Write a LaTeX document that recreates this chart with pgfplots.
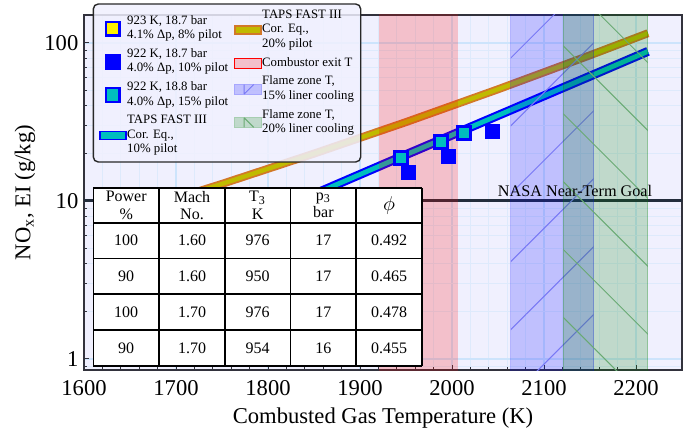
\documentclass[border=0pt]{standalone}
\usepackage{fontspec}
\setmainfont{Liberation Serif}
\usepackage{pgfplots}
\usepackage{pgfplotstable}
\pgfplotsset{compat=1.18}
\usetikzlibrary{patterns.meta}

\definecolor{axbg}{RGB}{240,240,254}
\definecolor{gridmaj}{RGB}{205,228,252}
\definecolor{gridmin}{RGB}{222,234,252}
\definecolor{tapsolive}{RGB}{192,186,0}
\definecolor{tapsorange}{RGB}{210,120,40}
\definecolor{tealc}{RGB}{0,190,190}
\definecolor{nasa}{RGB}{35,45,60}
\definecolor{frame}{RGB}{50,50,60}
\definecolor{legframe}{RGB}{40,40,40}
\definecolor{hatchblue}{RGB}{120,120,245}
\definecolor{hatchgreen}{RGB}{105,170,115}
\definecolor{bandgreen}{RGB}{0,128,0}

\newcommand{\legtext}[1]{\begin{tabular}{@{}l@{}}#1\end{tabular}}

% TAPS FAST III correlation curves
\pgfplotstableread{
T EI
1680 9.53
1750 12.8
1850 19.9
1950 31.5
2050 50.8
2150 83.4
2213 115
}\tapstwenty
\pgfplotstableread{
T EI
1750 6.2
1850 11.0
1950 19.6
2050 34.7
2150 61.5
2213 88.3
}\tapsten

\begin{document}
\begin{tikzpicture}
\begin{axis}[
  name=main,
  scale only axis, width=299pt, height=177.5pt,
  xmin=1600, xmax=2250, ymode=log, ymin=0.85, ymax=150,
  xtick={1600,1700,...,2200}, minor x tick num=4,
  ytick={1,10,100}, yticklabels={1,10,100},
  minor ytick={0.9,2,3,4,5,6,7,8,9,20,30,40,50,60,70,80,90},
  tick pos=left, tick align=inside,
  major tick length=2.5pt, minor tick length=1.5pt,
  tick style={draw=frame, line width=0.5pt},
  axis line style={draw=frame, line width=0.6pt},
  axis background/.style={fill=axbg},
  grid=both,
  major grid style={draw=gridmaj, line width=0.8pt},
  minor grid style={draw=gridmin, line width=0.4pt},
  /pgf/number format/assume math mode=true,
  tick label style={font=\fontsize{11.3}{13}\selectfont},
  x tick label style={/pgf/number format/1000 sep={}, yshift=-1.5pt},
  y tick label style={xshift=0.7pt},
  label style={font=\fontsize{11.3}{13}\selectfont},
  xlabel={Combusted Gas Temperature (K)},
  ylabel={NO\textsubscript{x}, EI (g/kg)},
  xlabel style={at={(axis description cs:0.5,-0.1352)}, anchor=center},
  ylabel style={at={(axis description cs:-0.0987,0.5)}, anchor=center},
]
% NASA goal
\addplot[no marks, draw=nasa, line width=1.5pt] coordinates {(1600,10) (2250,10)};
% correlation lines
\addplot[no marks, draw=tapsorange, line width=4pt] table[x=T,y=EI] {\tapstwenty};
\addplot[no marks, draw=tapsolive, line width=2.2pt] table[x=T,y=EI] {\tapstwenty};
\addplot[no marks, draw=blue, line width=4.5pt] table[x=T,y=EI] {\tapsten};
\addplot[no marks, draw=tealc, line width=2.4pt] table[x=T,y=EI] {\tapsten};
% temperature bands
\addplot[draw=none, fill=red, fill opacity=0.2] coordinates {(1921,0.5) (1921,300) (2006,300) (2006,0.5)};
\addplot[draw=blue, draw opacity=0.25, line width=0.5pt, fill=blue, fill opacity=0.2] coordinates {(2064,0.5) (2064,300) (2154,300) (2154,0.5)};
\addplot[draw=none, pattern={Lines[angle=45,distance=24pt,line width=0.5pt]}, pattern color=hatchblue] coordinates {(2064,0.5) (2064,300) (2154,300) (2154,0.5)};
\addplot[draw=bandgreen, draw opacity=0.25, line width=0.5pt, fill=bandgreen, fill opacity=0.2] coordinates {(2121,0.5) (2121,300) (2213,300) (2213,0.5)};
\addplot[draw=none, pattern={Lines[angle=-45,distance=24pt,line width=0.5pt]}, pattern color=hatchgreen] coordinates {(2121,0.5) (2121,300) (2213,300) (2213,0.5)};
% measurements
\addplot[only marks, mark=square*, mark size=3.5pt, mark options={fill=blue, draw=blue, line width=0.5pt}]
  coordinates {(1952.5,15.1) (1996,19.0) (2044,27.4)};
\addplot[only marks, mark=square*, mark size=3.25pt, mark options={fill=tealc, draw=blue, line width=1.5pt}]
  coordinates {(1945,18.8) (1988,23.5) (2013,26.9)};
\node[anchor=base east, inner sep=0pt, font=\fontsize{8.1}{9}\selectfont] at (axis cs:2218,10) [yshift=2pt] {NASA Near-Term Goal};
\end{axis}

% operating-point table
\begin{scope}[shift={(main.south west)}, x=1pt, y=1pt]
  \fill[white] (4.7,2) rectangle (168.95,90.9);
  \foreach \xx in {4.7,37.55,70.4,103.25,136.1,168.95}
    \draw[line width=0.9pt] (\xx,2) -- (\xx,90.9);
  \foreach \yy in {2,19.9,37.8,55.7,73.6,90.9}
    \draw[line width=0.9pt] (4.7,\yy) -- (168.95,\yy);
  \begin{scope}[every node/.style={inner sep=0pt, align=center, font=\fontsize{8}{8.8}\selectfont}]
    \node at (21.1,82.25) {Power\\\%};
    \node at (54,82.25) {Mach\\No.};
    \node at (86.8,82.25) {T\textsubscript{3}\\K};
    \node at (119.7,82.25) {p\textsubscript{3}\\bar};
    \node[font=\fontsize{10}{11}\selectfont] at (152.5,82.25) {$\phi$};
    \node at (21.1,64.65) {100}; \node at (54,64.65) {1.60}; \node at (86.8,64.65) {976}; \node at (119.7,64.65) {17}; \node at (152.5,64.65) {0.492};
    \node at (21.1,46.75) {90};  \node at (54,46.75) {1.60}; \node at (86.8,46.75) {950}; \node at (119.7,46.75) {17}; \node at (152.5,46.75) {0.465};
    \node at (21.1,28.85) {100}; \node at (54,28.85) {1.70}; \node at (86.8,28.85) {976}; \node at (119.7,28.85) {17}; \node at (152.5,28.85) {0.478};
    \node at (21.1,10.95) {90};  \node at (54,10.95) {1.70}; \node at (86.8,10.95) {954}; \node at (119.7,10.95) {16}; \node at (152.5,10.95) {0.455};
  \end{scope}
  % legend frame
  \draw[rounded corners=2.5pt, draw=legframe, line width=0.7pt, fill=axbg, fill opacity=0.85]
    (4.65,104) rectangle (138.35,183);
\end{scope}

% legend, first column
\begin{axis}[
  scale only axis, width=299pt, height=177.5pt,
  xmin=1600, xmax=2250, ymin=1, ymax=150, hide axis,
  legend cell align=left,
  legend style={at={(0.02391,1.0031)}, anchor=north west, draw=none, fill=none,
    inner sep=0pt, row sep=2.2pt, column sep=0.15pt,
    nodes={inner sep=0pt, text depth={}, text height={}, font=\fontsize{6.4}{7.2}\selectfont}},
]
\addlegendimage{legend image code/.code={
  \path (0pt,-4pt) (13.7pt,4pt);
  \draw[draw=blue, line width=1.35pt, fill=yellow] (3.52pt,-3.33pt) rectangle (10.18pt,3.33pt);}}
\addlegendentry{\legtext{923 K, 18.7 bar\\4.1\% Δp, 8\% pilot}}
\addlegendimage{legend image code/.code={
  \path (0pt,-4pt) (13.7pt,4pt);
  \fill[blue] (3.1pt,-3.75pt) rectangle (10.6pt,3.75pt);}}
\addlegendentry{\legtext{922 K, 18.7 bar\\4.0\% Δp, 10\% pilot}}
\addlegendimage{legend image code/.code={
  \path (0pt,-4pt) (13.7pt,4pt);
  \draw[draw=blue, line width=1.2pt, fill=tealc] (3.45pt,-3.4pt) rectangle (10.25pt,3.4pt);}}
\addlegendentry{\legtext{922 K, 18.8 bar\\4.0\% Δp, 15\% pilot}}
\addlegendimage{legend image code/.code={
  \draw[draw=blue, line width=0.7pt, fill=tealc] (0.35pt,-1.9pt) rectangle (13.35pt,1.9pt);}}
\addlegendentry{\legtext{TAPS FAST III\\Cor. Eq.,\\10\% pilot}}
\end{axis}

% legend, second column
\begin{axis}[
  scale only axis, width=299pt, height=177.5pt,
  xmin=1600, xmax=2250, ymin=1, ymax=150, hide axis,
  legend cell align=left,
  legend style={at={(0.24967,1.0194)}, anchor=north west, draw=none, fill=none,
    inner sep=0pt, row sep=2.2pt, column sep=0.15pt,
    nodes={inner sep=0pt, text depth={}, text height={}, font=\fontsize{6.4}{7.2}\selectfont}},
]
\addlegendimage{legend image code/.code={
  \draw[draw=tapsorange, line width=0.7pt, fill=tapsolive] (0.35pt,-1.98pt) rectangle (13.35pt,1.98pt);}}
\addlegendentry{\legtext{TAPS FAST III\\Cor. Eq.,\\20\% pilot}}
\addlegendimage{legend image code/.code={
  \fill[red, fill opacity=0.2] (0pt,-2.42pt) rectangle (13.7pt,2.42pt);}}
\addlegendentry{\legtext{Combustor exit T}}
\addlegendimage{legend image code/.code={
  \draw[draw=blue, draw opacity=0.3, line width=0.5pt, fill=blue, fill opacity=0.2] (0.25pt,-2.4pt) rectangle (13.45pt,2.4pt);
  \draw[hatchblue, line width=0.5pt] (5pt,-2.4pt) -- (5pt,2.4pt) (5pt,-2.4pt) -- (9.8pt,2.4pt);}}
\addlegendentry{\legtext{Flame zone T,\\15\% liner cooling}}
\addlegendimage{legend image code/.code={
  \draw[draw=bandgreen, draw opacity=0.3, line width=0.5pt, fill=bandgreen, fill opacity=0.2] (0.25pt,-2.4pt) rectangle (13.45pt,2.4pt);
  \draw[hatchgreen, line width=0.5pt] (5pt,-2.4pt) -- (5pt,2.4pt) (5pt,2.4pt) -- (9.8pt,-2.4pt);}}
\addlegendentry{\legtext{Flame zone T,\\20\% liner cooling}}
\end{axis}

\pgfresetboundingbox
\path ([xshift=-42pt,yshift=-31.5pt]main.south west) rectangle ([xshift=3.5pt,yshift=7.5pt]main.north east);
\end{tikzpicture}
\end{document}
